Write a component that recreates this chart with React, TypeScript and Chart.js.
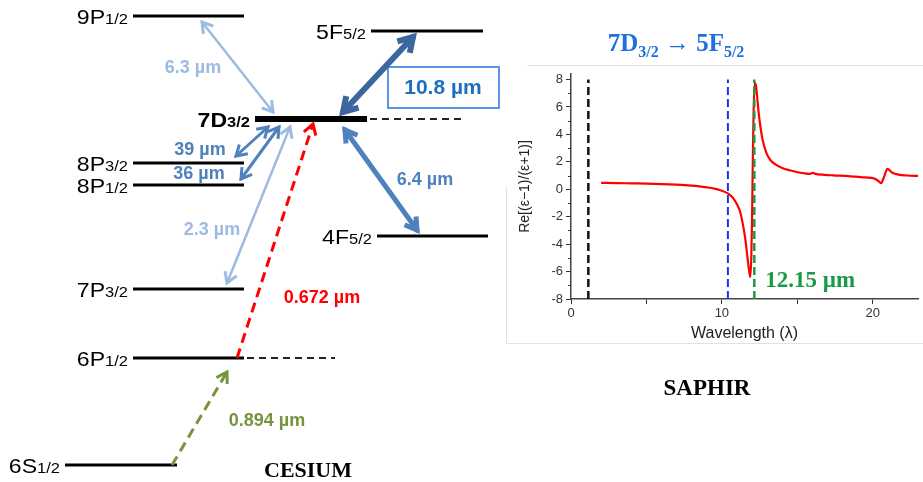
import React, { useEffect, useRef } from 'react';
import { Chart, registerables } from 'chart.js';

Chart.register(...registerables);

// ---------- Cesium level diagram (diagram units = canvas pixels) ----------
const levelNames = ['9P', '5F', '7D', '8P', '8P', '4F', '7P', '6P', '6S'];
const levelSubs = ['1/2', '5/2', '3/2', '3/2', '1/2', '5/2', '3/2', '1/2', '1/2'];
const levelY = [16, 31, 119, 163, 185, 236, 289, 358, 465];
const levelStart = [133, 371, 255, 133, 133, 377, 133, 133, 65];
const levelEnd = [244, 483, 367, 244, 244, 488, 244, 244, 177];

// dashed continuations of 7D3/2 and 6P1/2
const guideLevel = [2, 7];
const guideEnd = [462, 335];

// transitions between levels
const transFromX = [202, 413, 268, 279, 290, 345, 237, 172];
const transFromY = [22, 37, 127, 127, 127, 130, 358, 465];
const transToX = [273, 343, 236, 241, 227, 417, 313, 227];
const transToY = [112, 112, 156, 179, 283, 230, 124, 372];
const transColor = ['#9dbbdf', '#3b679c', '#4f81bd', '#4f81bd', '#9dbbdf', '#4f81bd', '#ff0000', '#77933c'];
const transWidth = [2.5, 6, 3, 3, 2.5, 5, 3, 3];
const transDashed = [false, false, false, false, false, false, true, true];
const transBoth = [true, true, true, true, true, true, false, false];

const transLabels = ['6.3 µm', '10.8 µm', '39 µm', '36 µm', '2.3 µm', '6.4 µm', '0.672 µm', '0.894 µm'];
const transLabelX = [193, 443, 200, 199, 212, 425, 322, 267];
const transLabelY = [68, 88, 150, 174, 230, 180, 298, 421];
const transLabelColor = ['#9dbbdf', '#1f6fc0', '#4f81bd', '#4f81bd', '#9dbbdf', '#4f81bd', '#ff0000', '#77933c'];

// ---------- Sapphire response ----------
const wavelength = [2, 3, 4, 5, 6, 7, 8, 8.5, 9, 9.5, 9.9, 10.4, 10.75, 11.0, 11.2, 11.4, 11.55, 11.7, 11.8, 11.88, 11.95, 12.0, 12.05, 12.1, 12.17, 12.25, 12.3, 12.4, 12.5, 12.7, 12.95, 13.2, 13.5, 14.0, 14.5, 15.1, 15.6, 15.85, 16.0, 16.2, 16.8, 17.4, 18.4, 19.5, 20.1, 20.35, 20.55, 20.75, 20.97, 21.3, 21.7, 22.3, 23];
const response = [0.46, 0.45, 0.43, 0.41, 0.38, 0.33, 0.26, 0.21, 0.14, 0.05, -0.07, -0.3, -0.65, -1.1, -1.6, -2.6, -3.6, -5.0, -5.9, -6.4, -5.0, -2.2, 2.0, 5.5, 7.75, 7.6, 7.2, 6.0, 5.0, 3.6, 2.65, 2.15, 1.85, 1.55, 1.38, 1.22, 1.14, 1.12, 1.2, 1.12, 1.05, 1.01, 0.95, 0.86, 0.78, 0.62, 0.44, 0.9, 1.48, 1.2, 1.06, 1.0, 0.97];

const markerWavelength = [1.15, 10.4, 12.15];
const markerColor = ['#111111', '#1a35e6', '#1a9a45'];
const markerWidth = [2.5, 2, 2.5];
const resonanceLabel = '12.15 µm';

const SANS = '"Liberation Sans", Arial, sans-serif';
const SERIF = '"Liberation Serif", "Times New Roman", serif';
const LABEL_STRETCH = 1.1;

function drawArrow(
  ctx: CanvasRenderingContext2D,
  x1: number, y1: number, x2: number, y2: number,
  color: string, width: number, dashed: boolean, both: boolean
) {
  const ang = Math.atan2(y2 - y1, x2 - x1);
  const head = Math.max(12, width * 2.7);
  const spread = 0.55;
  ctx.save();
  ctx.strokeStyle = color;
  ctx.lineWidth = width;
  ctx.lineCap = dashed ? 'butt' : 'round';
  ctx.setLineDash(dashed ? [10, 6] : []);
  ctx.beginPath();
  ctx.moveTo(x1, y1);
  ctx.lineTo(x2, y2);
  ctx.stroke();
  ctx.setLineDash([]);
  ctx.lineJoin = 'miter';
  ctx.lineCap = 'butt';
  ctx.lineWidth = Math.max(width, 3);
  const tip = (x: number, y: number, a: number) => {
    ctx.beginPath();
    ctx.moveTo(x - head * Math.cos(a - spread), y - head * Math.sin(a - spread));
    ctx.lineTo(x, y);
    ctx.lineTo(x - head * Math.cos(a + spread), y - head * Math.sin(a + spread));
    ctx.stroke();
  };
  tip(x2, y2, ang);
  if (both) tip(x1, y1, ang + Math.PI);
  ctx.restore();
}

const diagramDecor = {
  id: 'diagramDecor',
  afterDatasetsDraw(chart: any) {
    const { ctx } = chart;
    const sx = chart.scales.x;
    const sy = chart.scales.y;
    const px = (v: number) => sx.getPixelForValue(v);
    const py = (v: number) => sy.getPixelForValue(v);

    // 10.8 µm highlight box
    ctx.save();
    ctx.fillStyle = '#ffffff';
    ctx.strokeStyle = '#5b95ec';
    ctx.lineWidth = 2;
    ctx.fillRect(px(388), py(67), px(499) - px(388), py(108) - py(67));
    ctx.strokeRect(px(388), py(67), px(499) - px(388), py(108) - py(67));
    ctx.restore();

    // transitions
    transFromX.forEach((_, i) => {
      drawArrow(ctx, px(transFromX[i]), py(transFromY[i]), px(transToX[i]), py(transToY[i]),
        transColor[i], transWidth[i], transDashed[i], transBoth[i]);
    });

    // level labels
    levelNames.forEach((name, i) => {
      const bold = name === '7D';
      const mainFont = `${bold ? 'bold ' : ''}21px ${SANS}`;
      const subFont = `${bold ? 'bold ' : ''}15px ${SANS}`;
      ctx.save();
      ctx.font = mainFont;
      const w1 = ctx.measureText(name).width;
      ctx.font = subFont;
      const w2 = ctx.measureText(levelSubs[i]).width;
      const total = (w1 + w2) * LABEL_STRETCH;
      ctx.translate(px(levelStart[i]) - 5 - total, py(levelY[i]) + 8);
      ctx.scale(LABEL_STRETCH, 1);
      ctx.fillStyle = '#000000';
      ctx.textBaseline = 'alphabetic';
      ctx.font = mainFont;
      ctx.fillText(name, 0, 0);
      ctx.font = subFont;
      ctx.fillText(levelSubs[i], w1, 0);
      ctx.restore();
    });

    // transition labels
    transLabels.forEach((t, i) => {
      ctx.save();
      ctx.font = `bold ${i === 1 ? 21 : 18}px ${SANS}`;
      ctx.fillStyle = transLabelColor[i];
      ctx.textAlign = 'center';
      ctx.textBaseline = 'middle';
      ctx.fillText(t, px(transLabelX[i]), py(transLabelY[i]));
      ctx.restore();
    });

    // element caption
    ctx.save();
    ctx.font = `bold 22px ${SERIF}`;
    ctx.fillStyle = '#000000';
    ctx.textAlign = 'center';
    ctx.fillText('CESIUM', 308, 477);
    ctx.restore();
  },
};

const plotDecor = {
  id: 'plotDecor',
  afterDraw(chart: any) {
    const { ctx, chartArea } = chart;
    const sx = chart.scales.x;
    const sy = chart.scales.y;
    ctx.save();

    // light frame of the plot panel
    ctx.strokeStyle = '#e2e2e2';
    ctx.lineWidth = 1;
    ctx.beginPath();
    ctx.moveTo(27, 65.5); ctx.lineTo(423, 65.5);
    ctx.moveTo(6.5, 187); ctx.lineTo(6.5, 343.5); ctx.lineTo(423, 343.5);
    ctx.stroke();

    // minor ticks
    ctx.strokeStyle = '#333333';
    ctx.lineWidth = 1;
    ctx.beginPath();
    for (let v = -7; v <= 7; v += 2) {
      const yy = Math.round(sy.getPixelForValue(v)) + 0.5;
      ctx.moveTo(chartArea.left - 3, yy);
      ctx.lineTo(chartArea.left, yy);
    }
    ctx.stroke();

    // resonance label
    ctx.font = `bold 23px ${SERIF}`;
    ctx.fillStyle = '#1a9a45';
    ctx.textAlign = 'left';
    ctx.fillText(resonanceLabel, sx.getPixelForValue(12.15) + 11, sy.getPixelForValue(-7.1));

    // transition title
    const big = `bold 25px ${SERIF}`;
    const small = `bold 16px ${SERIF}`;
    const arrowFont = `25px ${SERIF}`;
    const parts = [
      { t: '7D', f: big, dy: 0 },
      { t: '3/2', f: small, dy: 6 },
      { t: ' \u2192 ', f: arrowFont, dy: 0 },
      { t: '5F', f: big, dy: 0 },
      { t: '5/2', f: small, dy: 6 },
    ];
    let total = 0;
    parts.forEach((p) => { ctx.font = p.f; total += ctx.measureText(p.t).width; });
    let cx = 176 - total / 2;
    ctx.fillStyle = '#1f6fe0';
    parts.forEach((p) => {
      ctx.font = p.f;
      ctx.fillText(p.t, cx, 51 + p.dy);
      cx += ctx.measureText(p.t).width;
    });

    // material caption
    ctx.font = `bold 23px ${SERIF}`;
    ctx.fillStyle = '#000000';
    ctx.textAlign = 'center';
    ctx.fillText('SAPHIR', 207, 395);
    ctx.restore();
  },
};

export default function App() {
  const diagramRef = useRef<HTMLCanvasElement>(null);
  const plotRef = useRef<HTMLCanvasElement>(null);

  useEffect(() => {
    const levelSets: any[] = levelNames.map((_, i) => ({
      data: [
        { x: levelStart[i], y: levelY[i] },
        { x: levelEnd[i], y: levelY[i] },
      ],
      showLine: true,
      borderColor: '#000000',
      borderWidth: levelNames[i] === '7D' ? 6 : 3,
      pointRadius: 0,
    }));
    const guideSets: any[] = guideLevel.map((li, k) => ({
      data: [
        { x: levelEnd[li] + 3, y: levelY[li] },
        { x: guideEnd[k], y: levelY[li] },
      ],
      showLine: true,
      borderColor: '#222222',
      borderWidth: 2,
      borderDash: [7, 5],
      pointRadius: 0,
    }));

    const diagram = new Chart(diagramRef.current!, {
      type: 'scatter',
      data: { datasets: [...levelSets, ...guideSets] },
      options: {
        animation: false,
        responsive: false,
        layout: { padding: 0 },
        events: [],
        scales: {
          x: { type: 'linear', min: 0, max: 500, display: false },
          y: { type: 'linear', min: 0, max: 482, reverse: true, display: false },
        },
        plugins: { legend: { display: false }, tooltip: { enabled: false } },
      },
      plugins: [diagramDecor],
    } as any);

    const markerSets: any[] = markerWavelength.map((m, i) => ({
      data: [{ x: m, y: -8 }, { x: m, y: 8 }],
      borderColor: markerColor[i],
      borderWidth: markerWidth[i],
      borderDash: [8, 4],
      pointRadius: 0,
      order: 0,
    }));

    const plot = new Chart(plotRef.current!, {
      type: 'line',
      data: {
        datasets: [
          {
            data: wavelength.map((w, i) => ({ x: w, y: response[i] })),
            borderColor: '#ff0000',
            borderWidth: 2.2,
            pointRadius: 0,
            cubicInterpolationMode: 'monotone',
            order: 1,
          },
          ...markerSets,
        ],
      },
      options: {
        animation: false,
        responsive: false,
        events: [],
        layout: { padding: { left: 0, top: 74, right: 5, bottom: 133 } },
        plugins: { legend: { display: false }, tooltip: { enabled: false } },
        scales: {
          x: {
            type: 'linear',
            min: 0,
            max: 23,
            ticks: {
              stepSize: 5,
              includeBounds: false,
              autoSkip: false,
              maxRotation: 0,
              padding: 2,
              color: '#333333',
              font: { size: 13, family: SANS },
              callback: (v: any) => (Number(v) % 10 === 0 ? String(v) : ''),
            },
            grid: { drawOnChartArea: false, drawTicks: true, tickLength: 5, color: '#333333' },
            border: { display: true, color: '#444444', width: 1.5 },
            title: {
              display: true,
              text: 'Wavelength (\u03bb)',
              color: '#222222',
              font: { size: 16, family: SANS },
              padding: { top: 0, bottom: 6 },
            },
            afterFit: (s: any) => { s.height = 50; },
          },
          y: {
            type: 'linear',
            min: -8,
            max: 8.4,
            ticks: {
              stepSize: 2,
              includeBounds: false,
              padding: 3,
              color: '#333333',
              font: { size: 13, family: SANS },
            },
            grid: { drawOnChartArea: false, drawTicks: true, tickLength: 5, color: '#333333' },
            border: { display: true, color: '#444444', width: 1.5 },
            title: {
              display: true,
              text: 'Re[(\u03b5\u22121)/(\u03b5+1)]',
              color: '#222222',
              font: { size: 14, family: SANS },
              padding: { top: 17, bottom: 0 },
            },
            afterFit: (s: any) => { s.width = 71; },
          },
        },
      },
      plugins: [plotDecor],
    } as any);

    return () => {
      diagram.destroy();
      plot.destroy();
    };
  }, []);

  return (
    <div style={{ position: 'absolute', left: 0, top: 0, width: 923, height: 482, background: '#ffffff' }}>
      <canvas
        ref={diagramRef}
        width={500}
        height={482}
        style={{ position: 'absolute', left: 0, top: 0, width: 500, height: 482, display: 'block' }}
      />
      <canvas
        ref={plotRef}
        width={423}
        height={482}
        style={{ position: 'absolute', left: 500, top: 0, width: 423, height: 482, display: 'block' }}
      />
    </div>
  );
}
